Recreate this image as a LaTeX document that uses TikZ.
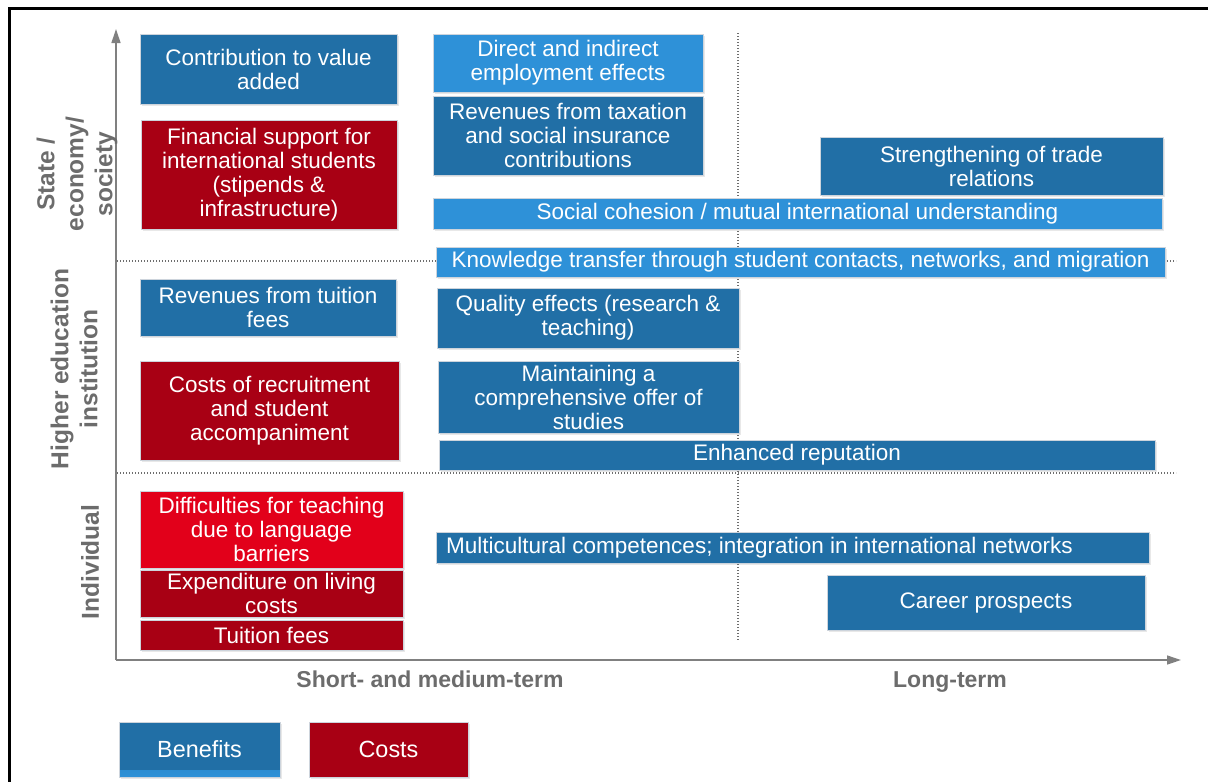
\documentclass[tikz,border=0pt]{standalone}
\usepackage{fontspec}
\setmainfont{Liberation Sans}
\usetikzlibrary{arrows.meta,shadows}
\definecolor{cDB}{RGB}{33,111,166}
\definecolor{cLB}{RGB}{46,145,216}
\definecolor{cDR}{RGB}{168,0,20}
\definecolor{cBR}{RGB}{226,0,26}
\definecolor{cAx}{RGB}{128,128,128}
\definecolor{cLab}{RGB}{108,108,108}
\definecolor{cEdge}{RGB}{205,212,220}
\newcommand\mybox[7]{\node[#1, minimum width={#5pt-#3pt}, minimum height={#6pt-#4pt}] (#2) at ({(#3+#5)/2},{(#4+#6)/2}) {#7};}
\begin{document}
\begin{tikzpicture}[x=1pt,y=-1pt,
  box/.style={draw=cEdge, line width=0.7pt, text=white, align=center, inner sep=0pt,
    font=\fontsize{22.5}{24}\selectfont,
    drop shadow={opacity=0.18, shadow xshift=1.5pt, shadow yshift=-1.5pt}},
  dkblue/.style={box, fill=cDB},
  ltblue/.style={box, fill=cLB},
  dkred/.style={box, fill=cDR},
  brred/.style={box, fill=cBR},
  axis/.style={draw=cAx, line width=1.3pt, -{Triangle[length=14pt,width=9pt]}},
  grid/.style={draw=cAx!85!black, line width=1.4pt, dash pattern=on 1.4pt off 1.6pt},
  axlab/.style={text=cLab, font=\bfseries\fontsize{23}{26}\selectfont, anchor=base},
  ylab/.style={text=cLab, font=\bfseries\fontsize{24.5}{29}\selectfont, rotate=90, align=center},
  leg/.style={box, font=\fontsize{23.4}{26}\selectfont}
]
\useasboundingbox (0,0) rectangle (1208,782);
% frame
\draw[line width=2.6pt] (9.5,782) -- (9.5,8.5) -- (1208,8.5);

% axes
\coordinate (O) at (116,660);
\coordinate (ytip) at (116,29);
\coordinate (xtip) at (1181,660);
\draw[axis] (O) -- (ytip);
\draw[axis] (O) -- (xtip);

% dotted grid
\coordinate (h1a) at (117,261); \coordinate (h1b) at (1176,261);
\coordinate (h2a) at (117,473); \coordinate (h2b) at (1176,473);
\coordinate (v1a) at (738,33);  \coordinate (v1b) at (738,640);
\draw[grid] (h1a) -- (h1b);
\draw[grid] (h2a) -- (h2b);
\draw[grid] (v1a) -- (v1b);

% state / economy / society
\mybox{dkblue}{b1}{140}{34}{397}{104}{Contribution to value\\added}
\mybox{dkred}{b2}{141}{120}{397}{229}{Financial support for\\international students\\(stipends \&\\infrastructure)}
\mybox{ltblue}{b3}{433}{34}{703}{92}{Direct and indirect\\employment effects}
\mybox{dkblue}{b4}{433}{96}{703}{175}{Revenues from taxation\\and social insurance\\contributions}
\mybox{dkblue}{b5}{820}{137}{1163}{195}{Strengthening of trade\\relations}
\mybox{ltblue}{b6}{433}{198}{1162}{229}{Social cohesion / mutual international understanding}
\mybox{ltblue}{b7}{436}{247}{1165}{277}{Knowledge transfer through student contacts, networks, and migration}

% higher education institution
\mybox{dkblue}{b8}{140}{279}{396}{336}{Revenues from tuition\\fees}
\mybox{dkblue}{b9}{437}{288}{739}{348}{Quality effects (research \&\\teaching)}
\mybox{dkred}{b10}{140}{361}{399}{460}{Costs of recruitment\\and student\\accompaniment}
\mybox{dkblue}{b11}{438}{361}{739}{433}{Maintaining a\\comprehensive offer of\\studies}
\mybox{dkblue}{b12}{439}{440}{1155}{470}{Enhanced reputation}

% individual
\mybox{brred}{b13}{140}{491}{403}{568}{Difficulties for teaching\\due to language\\barriers}
\mybox{dkred}{b14}{140}{570}{403}{617}{Expenditure on living\\costs}
\mybox{dkred}{b15}{140}{620}{403}{650}{Tuition fees}
\mybox{dkblue}{b16}{436}{532}{1149}{563}{}
\node[anchor=west, text=white, font=\fontsize{22.5}{24}\selectfont, inner sep=0pt] (t16) at (446,547.5) {Multicultural competences; integration in international networks};
\mybox{dkblue}{b17}{827}{575}{1145}{630}{Career prospects}

% axis labels
\node[axlab] (xl1) at (430,687) {Short- and medium-term};
\node[axlab] (xl2) at (950,687) {Long-term};
\node[ylab] (yl1) at (77,174) {State /\\economy/\\society};
\node[ylab] (yl2) at (74,369) {Higher education\\institution};
\node[ylab] (yl3) at (90,562) {Individual};

% legend
\mybox{leg, fill=cDB, path picture={\fill[top color=cDB, bottom color=cLB] ([yshift=7pt]path picture bounding box.south west) rectangle (path picture bounding box.south east);}}{l1}{119}{722}{280}{777}{Benefits}
\mybox{leg, fill=cDR}{l2}{309}{722}{468}{777}{Costs}
\end{tikzpicture}
\end{document}
